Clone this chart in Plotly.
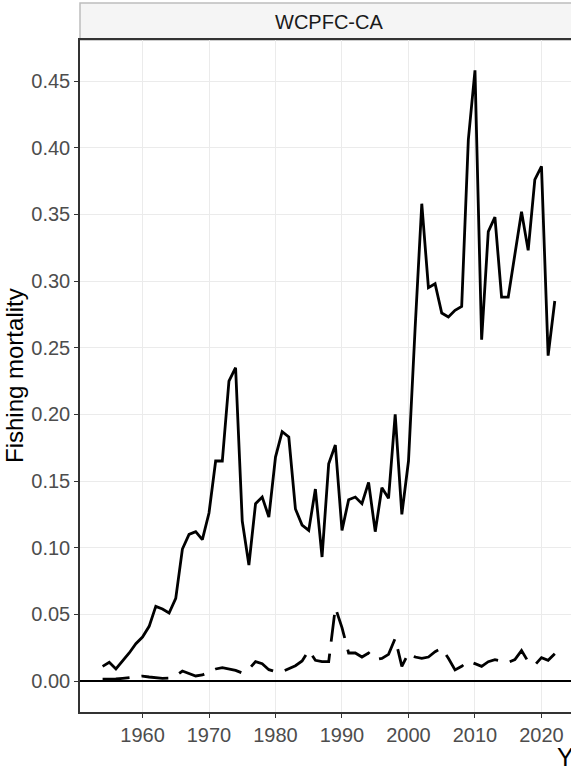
import plotly.graph_objects as go

years = list(range(1954, 2023))

f_total = [0.011, 0.014, 0.009, 0.015, 0.021, 0.028, 0.033, 0.041, 0.056, 0.054,
           0.051, 0.062, 0.099, 0.110, 0.112, 0.106, 0.126, 0.165, 0.165, 0.225,
           0.235, 0.120, 0.087, 0.133, 0.138, 0.123, 0.168, 0.187, 0.183, 0.129,
           0.117, 0.113, 0.144, 0.093, 0.163, 0.177, 0.113, 0.136, 0.138, 0.133,
           0.149, 0.112, 0.145, 0.137, 0.200, 0.125, 0.165, 0.265, 0.358, 0.295,
           0.298, 0.276, 0.273, 0.278, 0.281, 0.406, 0.458, 0.256, 0.337, 0.348,
           0.288, 0.288, 0.320, 0.352, 0.323, 0.376, 0.386, 0.244, 0.285]

f_other = [0.0013, 0.0013, 0.0015, 0.002, 0.0025, 0.003, 0.0037, 0.003, 0.0025, 0.002,
           0.0022, 0.004, 0.0075, 0.0055, 0.0038, 0.0045, 0.0065, 0.009, 0.010, 0.0092,
           0.008, 0.006, 0.009, 0.0145, 0.013, 0.0085, 0.007, 0.007, 0.009, 0.0115,
           0.015, 0.023, 0.0155, 0.0145, 0.0145, 0.055, 0.040, 0.021, 0.021, 0.018,
           0.021, 0.016, 0.017, 0.020, 0.032, 0.011, 0.021, 0.018, 0.017, 0.018,
           0.022, 0.0245, 0.017, 0.0083, 0.011, 0.015, 0.013, 0.011, 0.0145, 0.016,
           0.015, 0.014, 0.016, 0.0228, 0.0145, 0.012, 0.0175, 0.0155, 0.0205]

x_ticks = [1960, 1970, 1980, 1990, 2000, 2010, 2020]
y_ticks = [0.00, 0.05, 0.10, 0.15, 0.20, 0.25, 0.30, 0.35, 0.40, 0.45]
panel_title = "WCPFC-CA"

FONT = "Liberation Sans, Arial, Helvetica, sans-serif"

fig = go.Figure()
fig.add_trace(go.Scatter(x=years, y=f_other, mode="lines",
                         line=dict(color="black", width=2.8, dash="27px,12px"),
                         showlegend=False, hoverinfo="skip"))
fig.add_trace(go.Scatter(x=years, y=f_total, mode="lines",
                         line=dict(color="black", width=2.8),
                         showlegend=False, hoverinfo="skip"))

W, H = 571, 772
L, R, T, B = 80, 0, 40, 60
pw = W - L - R
ph = H - T - B

fig.update_layout(
    width=W, height=H,
    margin=dict(l=L, r=R, t=T, b=B, pad=0),
    paper_bgcolor="white", plot_bgcolor="white",
    font=dict(family=FONT),
    xaxis=dict(range=[1950.6, 2024.44], tickvals=x_ticks,
               ticktext=[str(v) for v in x_ticks],
               showgrid=True, gridcolor="#EBEBEB", gridwidth=1.2,
               zeroline=False, showline=True, linecolor="#333333", linewidth=1.5,
               mirror=True, ticks="outside", ticklen=4, tickcolor="#333333",
               tickwidth=1.2, tickfont=dict(size=20, color="#4D4D4D", family=FONT)),
    yaxis=dict(range=[-0.02325, 0.4808], tickvals=y_ticks,
               ticktext=["%.2f" % v for v in y_ticks],
               showgrid=True, gridcolor="#EBEBEB", gridwidth=1.2,
               zeroline=True, zerolinecolor="black", zerolinewidth=1.5,
               showline=True, linecolor="#333333", linewidth=1.5, mirror=False,
               ticks="outside", ticklen=4, tickcolor="#333333", tickwidth=1.2,
               tickfont=dict(size=20, color="#4D4D4D", family=FONT)),
)

# facet strip
fig.add_shape(type="rect", xref="paper", yref="paper",
              x0=0, x1=1.05, y0=1, y1=1 + 37 / ph,
              fillcolor="#F5F5F5", line=dict(color="#BDBDBD", width=1.5),
              layer="below")
fig.add_annotation(text=panel_title, xref="paper", yref="paper",
                   x=(328.5 - L) / pw, y=1 + 18.5 / ph, showarrow=False,
                   xanchor="center", yanchor="middle",
                   font=dict(size=20, color="#1A1A1A", family=FONT))

# axis titles
fig.add_annotation(text="Fishing mortality", xref="paper", yref="paper",
                   x=0, y=0.5, xshift=-66, textangle=-90, showarrow=False,
                   xanchor="center", yanchor="middle",
                   font=dict(size=24, color="black", family=FONT))
fig.add_annotation(text="Year", xref="paper", yref="paper",
                   x=(555 - L) / pw, y=0, yshift=-45, showarrow=False,
                   xanchor="left", yanchor="middle",
                   font=dict(size=25, color="black", family=FONT))

fig.write_html("out.html")
